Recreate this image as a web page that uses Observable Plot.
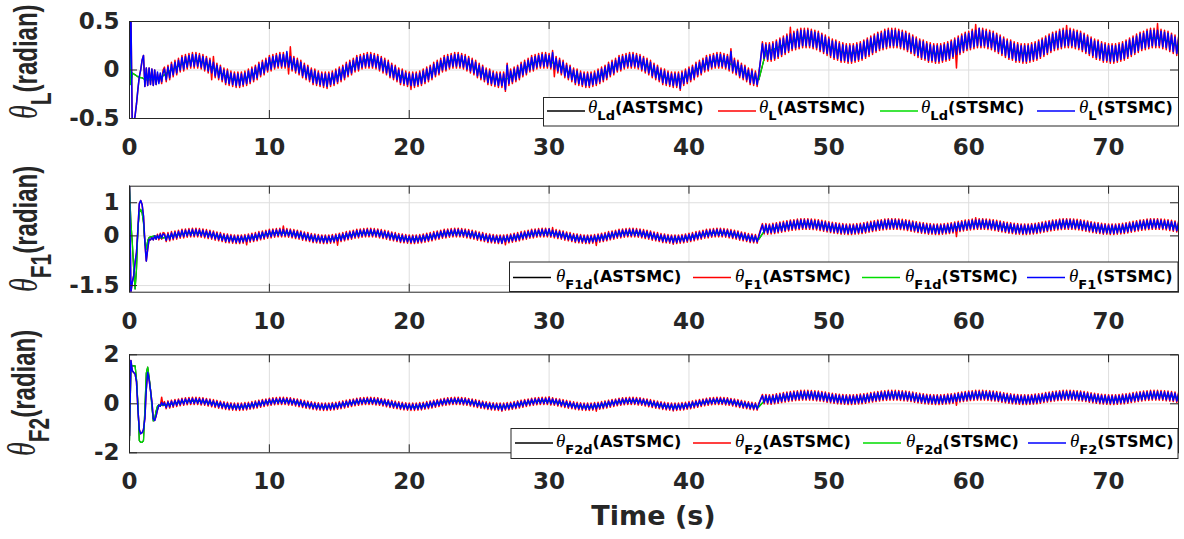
<!DOCTYPE html>
<html><head><meta charset="utf-8">
<script src="https://cdn.jsdelivr.net/npm/d3@7"></script>
<script src="https://cdn.jsdelivr.net/npm/@observablehq/plot@0.6"></script>
<style>
body{margin:0;background:#fff;}
#wrap{position:relative;width:1184px;height:539px;overflow:hidden;background:#fff;}
</style></head>
<body><div id="wrap"></div>
<script>
// ---------- DATA (values in centiradians) ----------
// time grids (s): 0.1 s during the start-up transient, then 0.125 s (measured signals) / 0.5 s (desired signals)
const tFine = d3.range(0, 2.45, 0.1).concat(d3.range(2.5, 75.001, 0.125));
const tCoarse = d3.range(0, 2.45, 0.1).concat(d3.range(2.5, 75.001, 0.5));
const xTicks = [0, 10, 20, 30, 40, 50, 60, 70];

// Panel 1: theta_L
const thLd = [50,-15,-3,-4,-5,-6,-7,-7,-8,-8,-9,-9,-10,-10,-10,-10,-10,-10,-9,-9,-9,-8,-8,-7,-6,
-5,0,4,8,10,9,6,2,-3,-7,-10,-10,-7,-3,2,7,9,10,8,4,-1,-6,-9,-10,-9,
-5,0,4,8,11,10,6,2,-3,-7,-10,-10,-7,-3,2,7,10,11,8,4,-1,-6,-9,-10,-9,
-5,0,4,8,10,9,6,2,-3,-7,-10,-10,-7,-3,2,7,9,10,8,4,-1,-6,-9,-10,-9,
-5,0,4,8,10,9,6,2,-3,-7,-10,
19,21,24,27,30,33,33,31,28,24,21,18,17,18,
21,25,29,32,33,32,30,26,22,19,17,17,19,23,27,30,33,33,31,28,24,21,18,17,18,
21,25,29,32,33,32,30,26,22,19,17,17,19,23,27,30,33,33,31,28,24];
const thL_st = [0,60,-60,-55,-47,-35,-20,-7,0,10,15,-17,2,-16,2,-15,1,-16,0,-15,-2,-14,-3,-12,-3,
1,-10,3,-8,6,-5,8,-3,10,0,13,1,14,3,15,4,16,4,16,4,15,3,14,1,12,-1,10,-3,8,-6,5,-8,3,-10,0,-13,-1,-14,-3,-15,-4,-16,-4,-16,-4,-15,-3,-14,-1,-12,
1,-10,3,-8,6,-5,8,-3,10,0,13,1,14,3,15,4,16,4,16,4,19,3,14,1,12,-1,10,-3,8,-6,5,-8,3,-10,0,-13,-1,-14,-3,-15,-4,-16,-4,-17,-4,-15,-3,-14,-1,-12,
1,-10,3,-8,6,-5,8,-3,10,0,13,1,14,3,15,4,16,4,16,4,15,3,14,1,12,-1,10,-3,8,-6,5,-8,3,-10,0,-13,-1,-14,-3,-15,-4,-16,-4,-16,-4,-15,-3,-14,-1,-12,
1,-10,3,-8,6,-5,8,-3,10,0,13,1,14,3,15,4,16,4,16,4,15,3,14,1,12,-1,10,-3,8,-6,5,-8,3,-10,0,-13,-1,-14,-3,-15,-4,-16,-4,-16,-4,-20,5,-14,-1,-12,
1,-10,3,-8,6,-5,8,-3,10,0,13,1,14,3,15,4,16,4,16,4,15,3,18,1,12,-1,10,-3,8,-6,5,-8,3,-10,0,-13,-1,-14,-3,-15,-4,-16,-4,-16,-4,-15,-3,-14,-1,-12,
1,-10,3,-8,6,-5,8,-3,10,0,13,1,14,3,15,4,16,4,16,4,15,3,14,1,12,-1,10,-3,8,-6,5,-8,3,-10,0,-13,-1,-14,-3,-15,-4,-16,-4,-16,-4,-19,-3,-14,-1,-12,
1,-10,3,-8,6,-5,8,-3,10,0,13,1,14,3,15,4,16,4,16,4,15,3,14,1,19,-1,10,-3,8,-6,5,-8,3,-10,0,-13,-1,-14,-3,-15,-4,
12,27,12,26,11,26,11,27,12,
29,14,31,16,33,18,35,20,37,22,38,23,40,24,41,25,41,25,41,25,40,24,39,23,38,21,36,19,34,17,32,15,30,13,29,12,27,10,26,10,25,9,25,9,25,10,26,11,27,12,
29,14,31,16,33,18,35,20,37,22,38,23,40,24,41,25,41,25,41,25,40,24,39,23,38,21,36,19,34,17,32,15,30,13,29,12,27,10,26,10,25,9,25,9,25,10,26,11,27,12,
29,14,31,16,33,18,35,20,37,22,38,23,40,24,41,25,43,25,41,25,40,24,39,23,38,21,36,19,34,17,32,15,30,13,29,12,27,10,26,10,25,9,25,9,25,10,26,11,27,12,
29,14,31,16,33,18,35,20,37,22,38,23,40,24,41,25,41,25,41,25,40,24,39,23,38,21,36,19,34,17,32,15,30,13,29,12,27,10,26,10,25,9,25,9,25,10,26,11,27,12,
29,14,31,16,33,18,35,20,37,22,38,23,40,24,41,25,41,25,41,25,40,24,39,23,38,21,36,19,34,17,32];
const thL_ast = [0,60,-60,-55,-47,-35,-20,-7,0,10,15,-17,2,-16,2,-15,1,-16,0,-15,-4,-12,-5,-14,0,
3,-12,5,-10,8,-7,10,-5,12,-2,15,-1,16,1,17,2,18,2,18,2,17,1,16,-1,14,-3,12,-10,14,-8,7,-10,5,-12,2,-15,1,-16,-1,-17,-2,-18,-2,-18,-2,-17,-1,-16,1,-14,
3,-12,5,-10,8,-7,10,-5,12,-2,15,-1,16,1,17,2,18,2,18,2,17,-4,24,-1,14,-3,12,-5,10,-8,7,-10,5,-12,2,-15,1,-16,-1,-17,-2,-18,-2,-19,-2,-17,-1,-16,1,-14,
3,-12,5,-10,8,-7,10,-5,12,-2,15,-1,16,1,17,2,18,2,18,2,17,1,16,-1,14,-3,12,-5,10,-8,7,-10,5,-12,2,-15,1,-16,-1,-17,-2,-20,-2,-18,-2,-17,-1,-16,1,-14,
3,-12,5,-10,8,-7,10,-5,12,-2,15,-1,16,1,17,2,18,2,18,2,17,1,16,-1,14,-3,12,-5,10,-8,7,-10,5,-12,2,-15,1,-16,-1,-17,-2,-18,-2,-18,-2,-22,7,-16,1,-14,
3,-12,5,-10,8,-7,10,-5,12,-2,15,-1,16,1,17,2,18,2,18,2,17,1,20,-7,14,-3,12,-5,10,-8,7,-10,5,-12,2,-15,1,-16,-1,-17,-2,-18,-2,-18,-2,-17,-1,-16,1,-14,
3,-12,5,-10,8,-7,10,-5,12,-2,15,-1,16,1,17,2,18,2,18,2,17,1,16,-1,14,-3,12,-5,10,-8,7,-10,5,-12,2,-15,1,-16,-1,-17,-2,-18,-2,-18,-2,-21,-1,-16,1,-14,
3,-12,5,-10,8,-7,10,-5,12,-2,15,-1,16,1,17,2,18,2,18,2,17,1,16,-1,22,-3,12,-5,10,-8,7,-10,5,-12,2,-15,1,-16,-1,-17,-2,
10,29,10,28,9,28,9,29,10,
31,12,33,14,35,16,37,18,44,20,40,21,42,22,43,23,43,23,43,23,42,22,41,21,40,19,38,17,36,15,34,13,32,11,31,10,29,8,28,8,27,7,27,7,27,8,28,9,29,10,
31,12,33,14,35,16,37,18,39,20,40,21,42,22,43,23,43,23,43,23,42,22,41,21,40,19,38,17,36,15,34,13,32,11,31,10,29,8,28,8,27,7,27,7,27,8,28,9,29,10,
31,12,33,2,35,16,37,18,39,20,40,21,42,22,47,23,43,23,43,23,42,22,41,21,40,19,38,17,36,15,34,13,32,11,31,10,29,8,28,8,27,7,27,7,27,8,28,9,29,10,
31,12,33,14,35,16,37,18,39,20,40,21,42,22,43,23,46,23,43,23,42,22,41,21,40,19,38,17,36,15,34,13,32,11,31,10,29,8,28,8,27,7,27,7,27,8,28,9,29,10,
31,12,33,14,35,16,37,18,39,20,40,21,42,22,43,23,43,23,48,23,42,22,41,21,40,19,38,17,36,15,34];

// Panel 2: theta_F1
const thF1d = [150,40,-20,-100,-160,-100,20,70,80,70,40,-20,-40,-15,-5,-3,-2,-1,0,-2,-4,-5,-6,-6,-6,
-5,0,4,8,10,9,6,2,-3,-7,-10,-10,-7,-3,2,7,9,10,8,4,-1,-6,-9,-10,-9,
-5,0,4,8,10,9,6,2,-3,-7,-10,-10,-7,-3,2,7,9,10,8,4,-1,-6,-9,-10,-9,
-5,0,4,8,10,9,6,2,-3,-7,-10,-10,-7,-3,2,7,9,10,8,4,-1,-6,-9,-10,-9,
-5,0,4,8,10,9,6,2,-3,-7,-10,
22,22,26,30,33,36,36,34,31,27,24,21,20,21,
24,28,32,35,36,35,33,29,25,22,20,20,22,26,30,33,36,36,34,31,27,24,21,20,21,
24,28,32,35,36,35,33,29,25,22,20,20,22,26,30,33,36,36,34,31,27];
const thF1_st = [150,-170,-140,-120,-80,-50,20,97,107,95,60,-20,-76,-40,-10,-12,-5,-12,0,-10,2,-8,5,-6,6,
4,-13,6,-11,9,-8,11,-6,13,-3,16,-2,17,0,18,1,19,1,19,1,18,0,17,-2,15,-4,13,-6,11,-9,8,-11,6,-13,3,-16,2,-17,0,-18,-1,-19,-1,-19,-1,-18,0,-17,2,-15,
4,-13,6,-11,9,-8,11,-6,13,-3,16,-2,17,0,18,1,19,1,19,1,18,0,17,-2,15,-4,13,-6,11,-9,8,-11,6,-13,3,-16,2,-17,0,-18,-1,-19,-1,-19,-1,-18,0,-17,2,-15,
4,-13,6,-11,9,-8,11,-6,13,-3,16,-2,17,0,18,1,19,1,19,1,18,0,17,-2,15,-4,13,-6,11,-9,8,-11,6,-13,3,-16,2,-17,0,-18,-1,-19,-1,-19,-1,-18,0,-17,2,-15,
4,-13,6,-11,9,-8,11,-6,13,-3,16,-2,17,0,18,1,19,1,19,1,18,0,17,-2,15,-4,13,-6,11,-9,8,-11,6,-13,3,-16,2,-17,0,-18,-1,-19,-1,-22,-1,-18,0,-17,2,-15,
4,-13,6,-11,9,-8,11,-6,13,-3,16,-2,17,0,18,1,19,1,19,1,21,0,17,-2,15,-4,13,-6,11,-9,8,-11,6,-13,3,-16,2,-17,0,-18,-1,-19,-1,-19,-1,-18,0,-17,2,-15,
4,-13,6,-11,9,-8,11,-6,13,-3,16,-2,17,0,18,1,19,1,19,1,18,0,17,-2,15,-4,13,-6,11,-9,8,-11,6,-13,3,-16,2,-17,0,-18,-1,-21,-1,-19,-1,-18,0,-17,2,-15,
4,-13,6,-11,9,-8,11,-6,13,-3,16,-2,17,0,18,1,19,1,19,1,18,0,17,-2,15,-4,13,-6,11,-9,8,-11,6,-13,3,-16,2,-17,0,-18,-1,
16,33,10,33,9,32,10,34,11,
36,13,38,15,40,17,42,19,44,21,45,22,47,23,48,24,48,24,48,24,47,23,46,22,45,20,43,18,41,16,39,14,37,12,36,11,34,9,33,9,32,8,32,8,32,9,33,10,34,11,
36,13,38,15,40,17,42,19,44,21,45,22,47,23,48,24,48,24,48,24,47,23,46,22,45,20,43,18,41,16,39,14,37,12,36,11,34,9,33,9,32,8,32,8,32,9,33,10,34,11,
36,13,38,15,40,17,42,19,44,21,45,22,47,23,48,24,48,24,48,24,47,23,46,22,45,20,43,18,41,16,39,14,37,12,36,11,34,9,33,9,32,8,32,8,32,9,33,10,34,11,
36,13,38,15,40,17,42,19,44,21,45,22,47,23,48,24,48,24,48,24,47,23,46,22,45,20,43,18,41,16,39,14,37,12,36,11,34,9,33,9,32,8,32,8,32,9,33,10,34,11,
36,13,38,15,40,17,42,19,44,21,45,22,47,23,48,24,48,24,48,24,47,23,46,22,45,20,43,18,41,16,39];
const thF1_ast = [150,-170,-140,-120,-80,-50,20,97,107,95,60,-20,-76,-40,-10,-12,-5,-12,0,-10,5,-12,8,-10,10,
8,-17,10,-15,13,-12,15,-10,17,-7,20,-6,21,-4,22,-3,23,-3,23,-3,22,-4,21,-6,19,-8,17,-10,15,-13,12,-15,10,-17,7,-20,6,-21,4,-22,3,-23,3,-23,3,-22,4,-27,6,-19,
8,-17,10,-15,13,-12,15,-10,17,-7,20,-6,21,-4,22,-3,23,-3,30,-3,22,-4,21,-6,19,-8,17,-10,15,-13,12,-15,10,-17,7,-20,6,-21,4,-22,3,-23,3,-23,3,-22,4,-21,6,-28,
8,-17,10,-15,13,-12,15,-10,17,-7,20,-6,21,-4,22,-3,23,-3,23,-3,22,-4,21,-6,19,-8,17,-10,15,-13,12,-15,10,-17,7,-20,6,-21,4,-22,3,-23,3,-23,3,-22,4,-21,6,-19,
8,-17,10,-15,13,-12,15,-10,17,-7,20,-6,21,-4,22,-3,23,-3,23,-3,22,-4,21,-6,19,-8,17,-10,15,-13,12,-15,10,-17,7,-20,6,-21,4,-22,3,-23,3,-23,3,-27,4,-21,6,-19,
8,-17,10,-15,13,-12,15,-10,17,-7,20,-6,21,-4,22,-3,23,-3,23,-3,22,-4,25,-6,19,-8,17,-10,15,-13,12,-15,10,-17,7,-20,6,-21,4,-22,3,-23,3,-23,3,-22,4,-29,6,-19,
8,-17,10,-15,13,-12,15,-10,17,-7,20,-6,21,-4,22,-3,23,-3,23,-3,22,-4,21,-6,19,-8,17,-10,15,-13,12,-15,10,-17,7,-20,6,-21,4,-22,3,-25,3,-23,3,-22,4,-21,6,-19,
8,-17,10,-15,13,-12,15,-10,17,-7,20,-6,21,-4,22,-3,23,-3,23,-3,22,-4,21,-6,19,-8,17,-10,15,-13,12,-15,10,-17,7,-20,6,-21,4,-22,3,
20,37,6,37,5,36,6,38,7,
40,9,42,11,44,13,46,15,48,17,49,18,51,19,52,20,52,20,52,20,51,19,50,18,49,16,47,14,45,12,43,10,41,8,40,7,38,5,37,5,36,4,36,4,36,5,37,6,38,7,
40,9,42,11,44,13,46,15,48,17,49,18,51,19,52,20,52,20,52,20,51,19,50,18,49,16,47,14,45,12,43,10,41,8,40,7,38,5,37,5,36,4,36,4,36,5,37,6,38,7,
40,9,42,-2,44,13,46,15,48,17,49,18,51,19,55,20,52,20,52,20,51,19,50,18,49,16,47,14,45,12,43,10,41,8,40,7,38,5,37,5,36,4,36,4,36,5,37,6,38,7,
40,9,42,11,44,13,46,15,48,17,49,18,51,19,52,20,52,20,52,20,51,19,50,18,49,16,47,14,45,12,43,10,41,8,40,7,38,5,37,5,36,4,36,4,36,5,37,6,38,7,
40,9,42,11,44,13,46,15,48,17,49,18,51,19,52,20,52,20,52,20,51,19,50,18,49,16,47,14,45,12,43];

// Panel 3: theta_F2
const thF2d = [-150,150,155,155,155,100,5,-150,-157,-157,-150,-20,125,150,110,60,-10,-70,-60,-30,-10,-5,-6,-5,-4,
-6,0,5,10,12,11,7,2,-4,-9,-12,-12,-9,-3,3,8,11,12,10,5,-1,-7,-11,-12,-10,
-6,0,5,10,12,11,7,2,-4,-9,-12,-12,-9,-3,3,8,11,12,10,5,-1,-7,-11,-12,-10,
-6,0,5,10,12,11,7,2,-4,-9,-12,-12,-9,-3,3,8,11,12,10,5,-1,-7,-11,-12,-10,
-6,0,5,10,12,11,7,2,-4,-9,-12,
19,20,23,28,32,34,35,33,30,25,21,18,17,18,
21,26,30,33,35,34,32,27,23,19,17,17,20,23,28,32,34,35,33,30,25,21,18,17,18,
21,26,30,33,35,34,32,27,23,19,17,17,20,23,28,32,34,35,33,30,25];
const thF2_st = [-130,177,135,128,122,90,-20,-105,-122,-118,-105,-60,60,129,100,55,10,-60,-68,-50,-25,-5,-10,5,-6,
4,-15,7,-12,10,-9,13,-6,15,-3,18,-1,20,1,21,2,22,2,22,2,21,0,20,-1,17,-4,15,-7,12,-10,9,-13,6,-15,3,-18,1,-20,-1,-21,-2,-22,-2,-22,-2,-21,0,-20,1,-17,
4,-15,7,-12,10,-9,13,-6,15,-3,18,-1,20,1,21,2,22,2,22,2,21,0,20,-1,17,-4,15,-7,12,-10,9,-13,6,-15,3,-18,1,-20,-1,-21,-2,-22,-2,-22,-2,-21,0,-20,1,-17,
4,-15,7,-12,10,-9,13,-6,15,-3,18,-1,20,1,21,2,22,2,22,2,21,0,20,-1,17,-4,15,-7,12,-10,9,-13,6,-15,3,-18,1,-20,-1,-21,-2,-22,-2,-22,-2,-21,0,-20,1,-17,
4,-15,7,-12,10,-9,13,-6,15,-3,18,-1,20,1,21,2,22,2,22,2,21,0,20,-1,17,-4,15,-7,12,-10,9,-13,6,-15,3,-18,1,-20,-1,-21,-2,-22,-2,-25,-2,-21,0,-20,1,-17,
4,-15,7,-12,10,-9,13,-6,15,-3,18,-1,20,1,21,2,22,2,22,2,24,0,20,-1,17,-4,15,-7,12,-10,9,-13,6,-15,3,-18,1,-20,-1,-21,-2,-22,-2,-22,-2,-21,0,-20,1,-17,
4,-15,7,-12,10,-9,13,-6,15,-3,18,-1,20,1,21,2,22,2,22,2,21,0,20,-1,17,-4,15,-7,12,-10,9,-13,6,-15,3,-18,1,-20,-1,-21,-2,-24,-2,-22,-2,-21,0,-20,1,-17,
4,-15,7,-12,10,-9,13,-6,15,-3,18,-1,20,1,21,2,22,2,22,2,21,0,20,-1,17,-4,15,-7,12,-10,9,-13,6,-15,3,-18,1,-20,-1,-21,-2,
18,33,5,33,4,32,3,33,5,
36,7,38,10,41,12,43,14,45,16,47,18,48,19,50,20,50,20,50,20,49,19,48,17,47,16,45,14,43,11,40,9,38,7,36,5,34,4,33,3,32,2,32,2,32,3,33,4,35,5,
36,7,38,10,41,12,43,14,45,16,47,18,48,19,50,20,50,20,50,20,49,19,48,17,47,16,45,14,43,11,40,9,38,7,36,5,34,4,33,3,32,2,32,2,32,3,33,4,35,5,
36,7,38,10,41,12,43,14,45,16,47,18,48,19,50,20,50,20,50,20,49,19,48,17,47,16,45,14,43,11,40,9,38,7,36,5,34,4,33,3,32,2,32,2,32,3,33,4,35,5,
36,7,38,10,41,12,43,14,45,16,47,18,48,19,50,20,50,20,50,20,49,19,48,17,47,16,45,14,43,11,40,9,38,7,36,5,34,4,33,3,32,2,32,2,32,3,33,4,35,5,
36,7,38,10,41,12,43,14,45,16,47,18,48,19,50,20,50,20,50,20,49,19,48,17,47,16,45,14,43,11,40];
const thF2_ast = [-130,177,135,128,122,90,-20,-105,-122,-118,-105,-60,60,129,100,55,10,-60,-68,-50,-25,-5,-10,27,-8,
9,-20,12,-17,15,-14,18,-11,20,-8,23,-6,25,-4,26,-3,27,-3,27,-3,26,-5,25,-6,22,-9,20,-12,17,-15,14,-18,11,-20,8,-23,6,-25,4,-26,3,-27,3,-27,3,-26,5,-25,6,-22,
9,-20,12,-17,15,-14,18,-11,20,-8,23,-6,25,-4,26,-3,27,-3,27,-3,26,-5,25,-6,22,-9,20,-12,17,-15,14,-18,11,-20,8,-23,6,-25,4,-26,3,-27,3,-27,3,-26,5,-25,6,-22,
9,-20,12,-17,15,-14,18,-11,20,-8,23,-6,25,-4,26,-3,27,-3,27,-3,26,-5,25,-6,22,-9,20,-12,17,-15,14,-18,11,-20,8,-23,6,-25,4,-26,3,-27,3,-27,3,-26,5,-25,6,-22,
9,-20,12,-17,15,-14,18,-11,20,-8,23,-6,25,-4,26,-3,27,-3,27,-3,26,-5,25,-6,22,-9,20,-12,17,-15,14,-18,11,-20,8,-23,6,-25,4,-26,3,-27,3,-30,3,-26,5,-25,6,-22,
9,-20,12,-17,15,-14,18,-11,20,-8,23,-6,25,-4,26,-3,27,-3,27,-3,29,-5,25,-6,22,-9,20,-12,17,-15,14,-18,11,-20,8,-23,6,-25,4,-26,3,-27,3,-27,3,-26,5,-30,6,-22,
9,-20,12,-17,15,-14,18,-11,20,-8,23,-6,25,-4,26,-3,27,-3,27,-3,26,-5,25,-6,22,-9,20,-12,17,-15,14,-18,11,-20,8,-23,6,-25,4,-26,3,-29,3,-27,3,-26,5,-25,6,-22,
9,-20,12,-17,15,-14,18,-11,20,-8,23,-6,25,-4,26,-3,27,-3,27,-3,26,-5,25,-6,22,-9,20,-12,17,-15,14,-18,11,-20,8,-23,6,-25,4,-26,3,
18,38,0,38,-1,37,-2,38,0,
41,2,43,5,46,7,48,9,50,11,52,13,53,14,55,15,55,15,55,15,54,14,53,12,52,11,50,9,48,6,45,4,43,2,41,0,39,-1,38,-2,37,-3,37,-3,37,-2,38,-1,40,0,
41,2,43,5,46,7,48,9,50,11,52,13,53,14,55,15,55,15,55,15,54,14,53,12,52,11,50,9,48,6,45,4,43,2,41,0,39,-1,38,-2,37,-3,37,-3,37,-2,38,-1,40,0,
41,2,43,-6,46,7,48,9,50,11,52,13,53,14,55,15,55,15,55,15,54,14,53,12,52,11,50,9,48,6,45,4,43,2,41,0,39,-1,38,-2,37,-3,37,-3,37,-2,38,-1,40,0,
41,2,43,5,46,7,48,9,50,11,52,13,53,14,55,15,55,15,55,15,54,14,53,12,52,11,50,9,48,6,45,4,43,2,41,0,39,-1,38,-2,37,-3,37,-3,37,-2,38,-1,40,0,
41,2,43,5,46,7,48,9,50,11,52,13,53,14,55,15,55,15,55,15,54,14,53,12,52,11,50,9,48,6,45];

// Labels
const seriesColors = ["#000000", "#ff0000", "#00dd00", "#0000ff"];
const legendSubs = [["Ld","L","Ld","L"], ["F1d","F1","F1d","F1"], ["F2d","F2","F2d","F2"]];
const legendCtrl = ["(ASTSMC)", "(ASTSMC)", "(STSMC)", "(STSMC)"];
const yLabelSubs = ["L", "F1", "F2"];
const yUnit = "(radian)";
const xTitle = "Time (s)";
const yTickSets = [[-0.5, 0, 0.5], [-1.5, 0, 1], [-2, 0, 2]];
const yDomains = [[-0.5, 0.5], [-1.7, 1.5], [-2, 2]];

// ---------- DRAWING ----------
const wrap = document.getElementById("wrap");
const rad = a => a.map(v => v / 100);
const problems = [];
[["thLd",thLd,tCoarse],["thL_st",thL_st,tFine],["thL_ast",thL_ast,tFine],
 ["thF1d",thF1d,tCoarse],["thF1_st",thF1_st,tFine],["thF1_ast",thF1_ast,tFine],
 ["thF2d",thF2d,tCoarse],["thF2_st",thF2_st,tFine],["thF2_ast",thF2_ast,tFine]]
 .forEach(([n,a,t]) => { if (a.length !== t.length) problems.push(n + ":" + a.length + "/" + t.length); });

const panels = [
  {top: 0,   height: 170, mt: 21,   mb: 52,
   series: [[tCoarse, thLd], [tFine, thL_ast], [tCoarse, thLd], [tFine, thL_st]]},
  {top: 170, height: 170, mt: 15.7, mb: 48.3,
   series: [[tCoarse, thF1d], [tFine, thF1_ast], [tCoarse, thF1d], [tFine, thF1_st]]},
  {top: 340, height: 180, mt: 14.3, mb: 67.7,
   series: [[tCoarse, thF2d], [tFine, thF2_ast], [tCoarse, thF2d], [tFine, thF2_st]]}
];
const strokeWidths = [1.2, 1.5, 1.3, 1.5];

const W = 1184, ML = 129, MR = 6, TICK = 8;
panels.forEach((p, i) => {
  const fh = p.height - p.mt - p.mb, fw = W - ML - MR;
  const yTicks = yTickSets[i];
  const svg = Plot.plot({
    width: W, height: p.height,
    marginLeft: ML, marginRight: MR, marginTop: p.mt, marginBottom: p.mb,
    x: {domain: [0, 75]},
    y: {domain: yDomains[i]},
    style: {fontFamily: "'DejaVu Sans', sans-serif", fontWeight: "bold", fontSize: "23px",
            color: "#262626", background: "none", overflow: "visible"},
    marks: [
      Plot.gridX(xTicks, {stroke: "#dedede", strokeOpacity: 1}),
      Plot.gridY(yTicks, {stroke: "#dedede", strokeOpacity: 1}),
      ...p.series.map(([t, v], k) => Plot.line(rad(v), {x: t, y: d => d, stroke: seriesColors[k], strokeWidth: strokeWidths[k], clip: true})),
      Plot.ruleX(xTicks, {insetBottom: fh - TICK}),
      Plot.ruleX(xTicks, {insetTop: fh - TICK}),
      Plot.ruleY(yTicks, {insetRight: fw - TICK}),
      Plot.ruleY(yTicks, {insetLeft: fw - TICK}),
      Plot.frame(),
      Plot.axisX(xTicks, {tickSize: 0, tickPadding: 20, label: null}),
      Plot.axisY(yTicks, {tickSize: 0, tickPadding: 10, label: null, tickFormat: d => String(d)})
    ]
  });
  svg.style.position = "absolute";
  svg.style.left = "0px";
  svg.style.top = p.top + "px";
  wrap.appendChild(svg);
});

// overlay: legends, y labels, x title
const ov = d3.create("svg").attr("width", W).attr("height", 539)
  .style("position", "absolute").style("left", "0px").style("top", "0px");
const SANS = "'DejaVu Sans', sans-serif";
const legendLayout = [
  {box: [543.5, 97.5, 635, 28.5], lineX: [547, 718, 880, 1037], textX: [588, 759, 921, 1079], base: 113, lineY: 111},
  {box: [509.5, 262, 668.5, 29.5], lineX: [513, 693, 862, 1027], textX: [556, 735, 905, 1069], base: 282, lineY: 277.5},
  {box: [511, 428.5, 667, 30], lineX: [515, 693, 863, 1028], textX: [556, 735, 906, 1070], base: 447, lineY: 443}
];
legendLayout.forEach((L, i) => {
  ov.append("rect").attr("x", L.box[0]).attr("y", L.box[1]).attr("width", L.box[2]).attr("height", L.box[3])
    .attr("fill", "#fff").attr("stroke", "#262626").attr("stroke-width", 1);
  for (let k = 0; k < 4; k++) {
    ov.append("line").attr("x1", L.lineX[k]).attr("x2", L.lineX[k] + 38).attr("y1", L.lineY).attr("y2", L.lineY)
      .attr("stroke", seriesColors[k]).attr("stroke-width", 1.5);
    const tx = ov.append("text").attr("x", L.textX[k]).attr("y", L.base).attr("fill", "#000");
    tx.append("tspan").attr("font-family", "'Liberation Serif', serif").attr("font-style", "italic").attr("font-size", 19).text("θ");
    tx.append("tspan").attr("dy", 7).attr("font-family", SANS).attr("font-weight", "bold").attr("font-size", 13).text(legendSubs[i][k]);
    tx.append("tspan").attr("dy", -7).attr("font-family", SANS).attr("font-weight", "bold").attr("font-size", 16).text(legendCtrl[k]);
  }
});
const yLabelPos = [[37, 119], [37, 292], [35, 456]];
yLabelPos.forEach(([x, y], i) => {
  const tx = ov.append("text").attr("transform", `translate(${x},${y}) scale(1.4,1) rotate(-90)`).attr("fill", "#262626");
  tx.append("tspan").attr("font-family", "'Liberation Serif', serif").attr("font-style", "italic").attr("font-size", 28).text("θ");
  tx.append("tspan").attr("dy", 10).attr("font-family", "'Liberation Sans', sans-serif").attr("font-weight", "bold").attr("font-size", 21).text(yLabelSubs[i]);
  tx.append("tspan").attr("dy", -10).attr("font-family", "'Liberation Sans', sans-serif").attr("font-weight", "bold").attr("font-size", 24).text(yUnit);
});
ov.append("text").attr("x", 653.5).attr("y", 525).attr("text-anchor", "middle")
  .attr("font-family", SANS).attr("font-weight", "bold").attr("font-size", 27).attr("fill", "#262626").text(xTitle);
if (problems.length) ov.append("text").attr("x", 10).attr("y", 535).attr("fill", "magenta").attr("font-size", 12).text(problems.join(" "));
wrap.appendChild(ov.node());
</script>
</body></html>
